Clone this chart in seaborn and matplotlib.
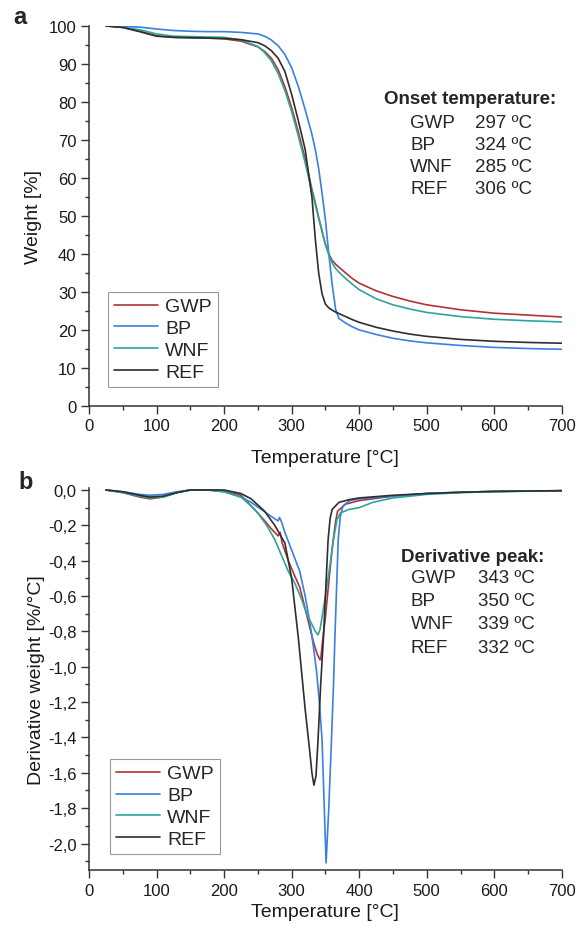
import numpy as np
import pandas as pd
import matplotlib
matplotlib.use("Agg")
import matplotlib.pyplot as plt
import seaborn as sns
from matplotlib.ticker import MultipleLocator, FuncFormatter

# samples and colours
samples = ["GWP", "BP", "WNF", "REF"]
colors = ["#b03434", "#3b7fe3", "#2aa69c", "#2e2e2e"]

# TGA curves (weight %)
temp_tga = [25, 50, 75, 100, 125, 150, 175, 200, 225, 250, 260, 270, 280, 290, 300,
            310, 320, 330, 335, 340, 345, 350, 355, 360, 365, 370, 380, 390, 400,
            425, 450, 475, 500, 550, 600, 650, 700]
w_gwp = [100, 99.6, 98.6, 97.4, 97.0, 96.9, 96.8, 96.6, 96.0, 94.5, 93.3, 91.5, 88.5, 84, 78.5,
         72, 65, 57, 53.5, 49.5, 46, 42.5, 40, 38.3, 37.3, 36.5, 35, 33.5, 32.3,
         30.3, 28.8, 27.6, 26.6, 25.3, 24.4, 23.9, 23.4]
w_bp = [100, 99.9, 99.7, 99.2, 98.8, 98.6, 98.5, 98.5, 98.3, 97.9, 97.3, 96.3, 94.8, 92.5, 89,
        84, 78, 71.5, 67.5, 62.5, 56, 49, 40, 32, 25.5, 23, 21.8, 20.8, 20,
        18.8, 17.8, 17.1, 16.6, 15.9, 15.4, 15.1, 14.9]
w_wnf = [100, 99.7, 99.0, 97.9, 97.3, 97.2, 97.1, 97.0, 96.3, 94.6, 93.0, 90.8, 87.5, 83, 77.5,
         71, 64, 56.5, 53, 49.5, 46, 42.5, 39.8, 37.6, 36.2, 35.2, 33.5, 32, 30.6,
         28.2, 26.6, 25.5, 24.6, 23.5, 22.8, 22.4, 22.1]
w_ref = [100, 99.6, 98.5, 97.3, 97.0, 96.9, 96.8, 96.7, 96.4, 95.6, 94.8, 93.5, 91.5, 88, 82,
         75, 67.5, 55, 44, 35, 29.5, 26.8, 25.8, 25.2, 24.7, 24.3, 23.5, 22.7, 22,
         20.7, 19.7, 18.9, 18.3, 17.5, 17.0, 16.7, 16.5]

# DTG curves (%/°C)
t_dtg_gwp = [25, 50, 75, 90, 110, 130, 150, 175, 200, 225, 245, 258, 270, 280, 283, 286, 295,
             305, 312, 320, 327, 333, 338, 342, 343, 346, 350, 354, 360, 365, 368, 371, 380,
             400, 450, 500, 550, 600, 700]
d_gwp = [0, -0.015, -0.04, -0.05, -0.04, -0.015, 0, 0, -0.005, -0.03, -0.11, -0.165, -0.22,
         -0.26, -0.24, -0.3, -0.40, -0.49, -0.55, -0.67, -0.78, -0.87, -0.93, -0.96, -0.96,
         -0.85, -0.72, -0.56, -0.33, -0.18, -0.12, -0.11, -0.08, -0.06, -0.035, -0.02,
         -0.013, -0.008, -0.004]
t_dtg_bp = [25, 50, 75, 90, 110, 130, 150, 175, 200, 225, 240, 255, 270, 280, 282, 285, 290,
            300, 312, 320, 327, 332, 337, 341, 345, 348, 351, 355, 359, 362, 364, 367, 369,
            372, 376, 386, 400, 450, 500, 550, 600, 700]
d_bp = [0, -0.01, -0.025, -0.03, -0.025, -0.01, 0, 0, -0.01, -0.04, -0.07, -0.11, -0.15,
        -0.175, -0.155, -0.18, -0.24, -0.34, -0.46, -0.6, -0.75, -0.88, -1.03, -1.2, -1.41,
        -1.76, -2.11, -1.8, -1.41, -1.1, -0.84, -0.5, -0.28, -0.15, -0.09, -0.06, -0.05,
        -0.035, -0.02, -0.013, -0.008, -0.004]
t_dtg_wnf = [25, 50, 75, 90, 110, 130, 150, 175, 200, 225, 240, 250, 263, 275, 285, 295, 305,
             315, 322, 330, 335, 339, 342, 345, 350, 357, 362, 367, 372, 385, 400, 420, 450,
             500, 550, 600, 700]
d_wnf = [0, -0.015, -0.035, -0.045, -0.04, -0.015, 0, 0, -0.01, -0.04, -0.09, -0.13, -0.2,
         -0.28, -0.37, -0.46, -0.53, -0.62, -0.7, -0.76, -0.8, -0.82, -0.79, -0.72, -0.6,
         -0.42, -0.28, -0.17, -0.13, -0.11, -0.10, -0.07, -0.045, -0.025, -0.015, -0.01,
         -0.004]
t_dtg_ref = [25, 50, 75, 90, 110, 130, 150, 175, 200, 225, 240, 260, 275, 290, 300, 310, 320,
             326, 330, 333, 336, 339, 343, 347, 350, 354, 357, 360, 370, 385, 400, 450, 500,
             550, 600, 700]
d_ref = [0, -0.01, -0.03, -0.04, -0.035, -0.015, 0, 0, 0, -0.02, -0.05, -0.12, -0.2, -0.30,
         -0.50, -0.84, -1.24, -1.45, -1.6, -1.67, -1.62, -1.42, -1.1, -0.84, -0.6, -0.28,
         -0.16, -0.11, -0.07, -0.055, -0.045, -0.03, -0.02, -0.013, -0.008, -0.004]

onset = ["297 ºC", "324 ºC", "285 ºC", "306 ºC"]
peak = ["343 ºC", "350 ºC", "339 ºC", "332 ºC"]

# long tables for seaborn
tga = pd.concat([pd.DataFrame({"T": temp_tga, "val": w, "sample": s})
                 for s, w in zip(samples, [w_gwp, w_bp, w_wnf, w_ref])])
dtg = pd.concat([pd.DataFrame({"T": t, "val": d, "sample": s})
                 for s, t, d in zip(samples,
                                    [t_dtg_gwp, t_dtg_bp, t_dtg_wnf, t_dtg_ref],
                                    [d_gwp, d_bp, d_wnf, d_ref])])

sns.set_style("ticks")
plt.rcParams["font.family"] = ["Liberation Sans", "DejaVu Sans"]
plt.rcParams["axes.edgecolor"] = "#333333"
plt.rcParams["xtick.color"] = "#333333"
plt.rcParams["ytick.color"] = "#333333"

fig = plt.figure(figsize=(5.78, 9.29), dpi=100)
ax1 = fig.add_axes([0.154, 0.562, 0.818, 0.409])
ax2 = fig.add_axes([0.154, 0.0624, 0.818, 0.411])

palette = dict(zip(samples, colors))
for ax, df, pad in [(ax1, tga, 11), (ax2, dtg, 4)]:
    sns.lineplot(data=df, x="T", y="val", hue="sample", hue_order=samples, palette=palette,
                 estimator=None, linewidth=1.2, ax=ax)
    sns.despine(ax=ax)
    ax.set_xlim(0, 700)
    ax.xaxis.set_major_locator(MultipleLocator(100))
    ax.xaxis.set_minor_locator(MultipleLocator(50))
    ax.tick_params(which="major", length=6, width=1, labelsize=12, pad=3, labelcolor="#1a1a1a")
    ax.tick_params(which="minor", length=3, width=1)
    for sp in ax.spines.values():
        sp.set_linewidth(1.1)
    ax.set_xlabel("Temperature [°C]", fontsize=14, labelpad=pad, color="#1a1a1a")

ax1.set_ylim(0, 100)
ax1.yaxis.set_major_locator(MultipleLocator(10))
ax1.yaxis.set_minor_locator(MultipleLocator(5))
ax1.set_ylabel("Weight [%]", fontsize=14, labelpad=5, color="#1a1a1a")

ax2.set_ylim(-2.15, 0.01)
ax2.yaxis.set_major_locator(MultipleLocator(0.2))
ax2.yaxis.set_minor_locator(MultipleLocator(0.1))
ax2.yaxis.set_major_formatter(FuncFormatter(lambda v, p: f"{v:.1f}".replace(".", ",").replace("-0,0", "0,0")))
ax2.set_ylabel("Derivative weight [%/°C]", fontsize=14, labelpad=2, color="#1a1a1a")

leg_kw = dict(title=None, frameon=True, fancybox=False, fontsize=14, handlelength=2.3,
              handletextpad=0.35, labelspacing=0.22, borderpad=0.3, borderaxespad=0,
              edgecolor="#999999", framealpha=1)
sns.move_legend(ax1, "lower left", bbox_to_anchor=(0.04, 0.05), **leg_kw)
sns.move_legend(ax2, "lower left", bbox_to_anchor=(0.044, 0.042), **leg_kw)
for ax in (ax1, ax2):
    ax.get_legend().get_frame().set_linewidth(0.8)

# annotation blocks
ax1.text(0.624, 0.808, "Onset temperature:", transform=ax1.transAxes, fontsize=13.5,
         fontweight="bold", va="center")
for i, (s, v) in enumerate(zip(samples, onset)):
    y = 0.747 - i * 0.0587
    ax1.text(0.679, y, s, transform=ax1.transAxes, fontsize=13.5, va="center")
    ax1.text(0.816, y, v, transform=ax1.transAxes, fontsize=13.5, va="center")

ax2.text(0.660, 0.822, "Derivative peak:", transform=ax2.transAxes, fontsize=13.5,
         fontweight="bold", va="center")
for i, (s, v) in enumerate(zip(samples, peak)):
    y = 0.765 - i * 0.0603
    ax2.text(0.681, y, s, transform=ax2.transAxes, fontsize=13.5, va="center")
    ax2.text(0.822, y, v, transform=ax2.transAxes, fontsize=13.5, va="center")

fig.text(0.035, 0.981, "a", fontsize=17, fontweight="bold", va="center", ha="center")
fig.text(0.045, 0.481, "b", fontsize=17, fontweight="bold", va="center", ha="center")

fig.savefig("out.png", dpi=100)
